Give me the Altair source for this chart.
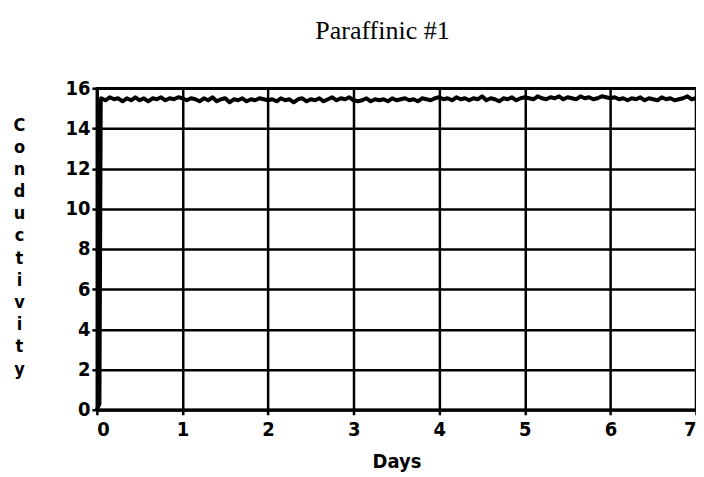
import altair as alt
import pandas as pd

# Conductivity trace, sampled every 0.05 day after the initial rise
start_days = [0.0, 0.03, 0.045]
start_vals = [0.0, 0.3, 15.3]
step = 0.05
trace = [
    15.5, 15.4, 15.55, 15.45, 15.5, 15.35, 15.5, 15.4, 15.55, 15.4, 15.5, 15.35, 15.5, 15.45, 15.55, 15.4, 15.5, 15.45, 15.55, 15.5,
    15.4, 15.5, 15.45, 15.35, 15.5, 15.4, 15.55, 15.35, 15.45, 15.5, 15.3, 15.45, 15.4, 15.5, 15.35, 15.45, 15.4, 15.5, 15.45, 15.4,
    15.45, 15.35, 15.5, 15.4, 15.45, 15.3, 15.45, 15.5, 15.35, 15.45, 15.4, 15.5, 15.35, 15.45, 15.55, 15.4, 15.5, 15.45, 15.55, 15.4,
    15.35, 15.4, 15.5, 15.35, 15.45, 15.4, 15.45, 15.35, 15.5, 15.4, 15.45, 15.5, 15.4, 15.45, 15.35, 15.5, 15.45, 15.4, 15.5, 15.55,
    15.45, 15.5, 15.4, 15.55, 15.45, 15.5, 15.4, 15.5, 15.45, 15.6, 15.4, 15.5, 15.45, 15.35, 15.5, 15.45, 15.55, 15.4, 15.5, 15.55,
    15.5, 15.45, 15.6, 15.5, 15.45, 15.55, 15.5, 15.6, 15.45, 15.55, 15.5, 15.45, 15.6, 15.5, 15.55, 15.45, 15.5, 15.6, 15.55, 15.5,
    15.55, 15.45, 15.5, 15.4, 15.5, 15.45, 15.55, 15.4, 15.5, 15.45, 15.4, 15.55, 15.45, 15.5, 15.4, 15.45, 15.5, 15.6, 15.45, 15.5,
]
days = start_days + [round(step * (i + 1), 2) for i in range(len(trace))]
values = start_vals + trace

x_ticks = [0, 1, 2, 3, 4, 5, 6, 7]
y_ticks = [0, 2, 4, 6, 8, 10, 12, 14, 16]
y_title = list("Conductivity")

df = pd.DataFrame({"day": days, "cond": values})

axis_font = "DejaVu Sans Condensed"

chart = (
    alt.Chart(df)
    .mark_line(color="black", strokeWidth=4, strokeJoin="round")
    .encode(
        x=alt.X(
            "day:Q",
            scale=alt.Scale(domain=[0, 7], nice=False, zero=True),
            axis=alt.Axis(
                values=x_ticks, format="d", title="Days",
                titleFont=axis_font, titleFontSize=20, titleFontWeight="bold",
                titlePadding=12,
                labelFont=axis_font, labelFontSize=20, labelFontWeight="bold",
                labelPadding=5,
            ),
        ),
        y=alt.Y(
            "cond:Q",
            scale=alt.Scale(domain=[0, 16], nice=False),
            axis=alt.Axis(
                values=y_ticks, format="d", title=y_title,
                titleAngle=0, titleAlign="center", titleBaseline="middle",
                titleLineHeight=22.2, titleX=-78, titleY=37,
                titleFont=axis_font, titleFontSize=18, titleFontWeight="bold",
                labelFont=axis_font, labelFontSize=20, labelFontWeight="bold",
                labelPadding=2,
            ),
        ),
    )
    .properties(
        width=600,
        height=322,
        autosize=alt.AutoSizeParams(type="none"),
        padding={"left": 89, "top": 80, "right": 0, "bottom": 66},
        title=alt.TitleParams(
            "Paraffinic #1", font="Liberation Serif", fontSize=26,
            fontWeight="normal", color="black", offset=34, dx=-14,
        ),
    )
    .configure_view(stroke="black", strokeWidth=2.5)
    .configure_axis(
        grid=True, gridColor="black", gridWidth=2.5, gridOpacity=1,
        domainColor="black", domainWidth=3,
        tickColor="black", tickWidth=2.5, tickSize=5,
        labelColor="black", titleColor="black",
    )
)

chart.save("out.html", embed_options={"renderer": "svg", "actions": False})
